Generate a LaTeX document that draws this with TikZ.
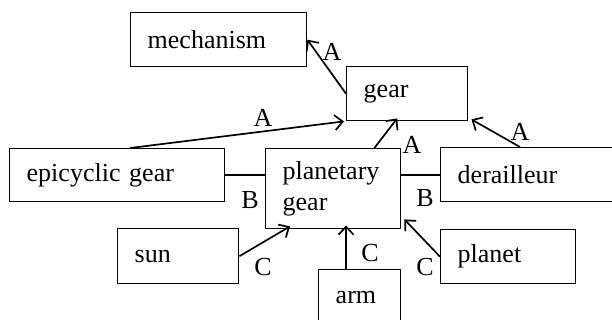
\documentclass[tikz,border=0pt]{standalone}
\usepackage{fontspec}
\setmainfont{Liberation Serif}
\usetikzlibrary{arrows.meta,calc}
\begin{document}
\begin{tikzpicture}[x=1pt,y=-1pt,
  box/.style={draw, line width=1.4pt, anchor=north west, align=left,
    inner xsep=17pt, inner ysep=0pt, font=\fontsize{26}{31}\selectfont},
  conn/.style={line width=1.7pt},
  arr/.style={conn, -{Straight Barb[length=8pt,width=15pt,line width=1.7pt]}},
  lbl/.style={inner sep=0pt, font=\fontsize{26}{31}\selectfont}]
\clip (0,0) rectangle (612,320);
\fill[white] (0,0) rectangle (612,320);
% boxes
\node[box, minimum width=176pt, minimum height=54pt, text width=142pt] (mech) at (130,12) {mechanism};
\node[box, minimum width=121pt, minimum height=54pt, text width=87pt] (gear) at (346,66) {gear};
\node[box, minimum width=215pt, minimum height=53pt, text width=181pt] (epi) at (9,148) {epicyclic gear};
\node[box, minimum width=135pt, minimum height=80pt, text width=101pt] (plan) at (265,148) {planetary\\gear};
\node[box, minimum width=190pt, minimum height=54pt, text width=156pt] (der) at (440,147) {derailleur};
\node[box, minimum width=121pt, minimum height=55pt, text width=87pt] (sun) at (117,228) {sun};
\node[box, minimum width=82pt, minimum height=55pt, text width=48pt] (arm) at (318,269) {arm};
\node[box, minimum width=135pt, minimum height=54pt, text width=101pt] (planet) at (440,229) {planet};
% connectors
\draw[arr] (gear.west) -- (mech.east);
\draw[arr] ($(epi.north)+(13,0)$) -- ($(gear.south west)+(-2,0)$);
\draw[arr] ($(plan.north east)+(-27,0)$) -- ($(gear.south)+(-10,-3)$);
\draw[arr] ($(der.north west)+(80,0)$) -- ($(gear.south east)+(3,-2)$);
\draw[conn] (epi.east) -- (epi.east -| plan.west);
\draw[conn] (der.west -| plan.east) -- (der.west);
\draw[arr] (sun.east) -- ($(plan.south west)+(25,-3)$);
\draw[arr] ($(arm.north west)+(28,0)$) -- ($(plan.south west)+(81,-4)$);
\draw[arr] (planet.west) -- ($(plan.south east)+(3,-10)$);
% labels
\node[lbl] (la1) at (332,52) {A};
\node[lbl] (la2) at (263,118) {A};
\node[lbl] (la3) at (412,145) {A};
\node[lbl] (la4) at (520,132) {A};
\node[lbl] (lb1) at (250,200) {B};
\node[lbl] (lb2) at (425,198) {B};
\node[lbl] (lc1) at (263,267) {C};
\node[lbl] (lc2) at (370,253) {C};
\node[lbl] (lc3) at (425,267) {C};
\end{tikzpicture}
\end{document}
